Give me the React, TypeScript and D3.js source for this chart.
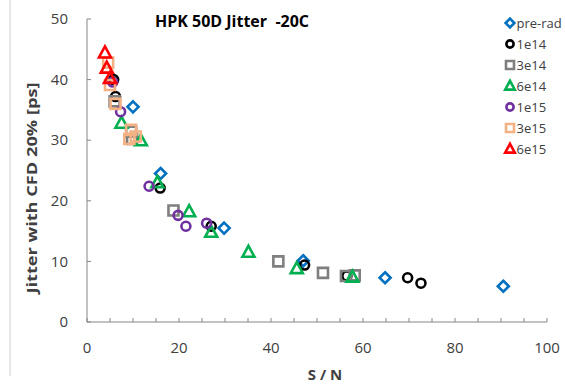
import * as d3 from 'd3'

const WIDTH = 565
const HEIGHT = 387
const MARGIN = {top: 19, right: 18, bottom: 65, left: 87}

type Pt = [number, number]

const preRad: Pt[] = [[10, 35.5], [16, 24.5], [29.8, 15.5], [47, 10.1], [64.8, 7.3], [90.5, 5.9]]
const s1e14: Pt[] = [[5.8, 40], [6.2, 37.2], [15.9, 22.1], [27, 15.8], [47.3, 9.4], [56.5, 7.6], [69.7, 7.3], [72.6, 6.4]]
const s3e14: Pt[] = [[6, 36.4], [9.6, 31.4], [9.8, 30.2], [18.8, 18.4], [41.6, 10], [51.3, 8.1], [56.3, 7.6], [58.2, 7.7]]
const s6e14: Pt[] = [[7.5, 32.8], [11.7, 29.9], [15.3, 23], [22.2, 18.2], [27, 14.8], [35.1, 11.5], [45.6, 8.8], [57.7, 7.4]]
const s1e15: Pt[] = [[5.6, 39.6], [7.3, 34.7], [13.5, 22.4], [19.8, 17.6], [21.5, 15.8], [26, 16.3]]
const s3e15: Pt[] = [[4.6, 42.8], [5, 39.1], [6.2, 36], [9.6, 31.7], [9.2, 30.2], [10.6, 30.6]]
const s6e15: Pt[] = [[3.9, 44.4], [4.3, 41.9], [5, 40.2]]

const seriesNames = ['pre-rad', '1e14', '3e14', '6e14', '1e15', '3e15', '6e15']
const seriesData = [preRad, s1e14, s3e14, s6e14, s1e15, s3e15, s6e15]
const seriesColors = ['#0070C0', '#000000', '#7F7F7F', '#00B050', '#7030A0', '#F4B183', '#FF0000']
const seriesShapes = ['diamond', 'circle', 'square', 'triangle', 'circle', 'square', 'triangle']

const xTicks = [0, 20, 40, 60, 80, 100]
const yTicks = [0, 10, 20, 30, 40, 50]

const symbolPath = (shape: string) => {
  if (shape === 'diamond') return 'M0,-5.5L5.5,0L0,5.5L-5.5,0Z'
  if (shape === 'square') return 'M-5,-5H5V5H-5Z'
  if (shape === 'triangle') return 'M0,-6.5L6,4.5H-6Z'
  return d3.arc()({innerRadius: 0, outerRadius: 4.5, startAngle: 0, endAngle: 2 * Math.PI}) as string
}

const Marker = ({shape, color, x, y, k = 1}: {shape: string; color: string; x: number; y: number; k?: number}) => (
  <path
    d={symbolPath(shape)}
    transform={`translate(${x},${y}) scale(${k})`}
    fill="none"
    stroke={color}
    strokeWidth={2.6 / k}
  />
)

export default function App() {
  const boundsHeight = HEIGHT - MARGIN.top - MARGIN.bottom
  const xScale = d3.scaleLinear().domain([0, 100]).range([0, 460])
  const yScale = d3.scaleLinear().domain([0, 50]).range([boundsHeight, 0])
  const minor = d3.range(0, 101, 5)
  const font = "'Open Sans', 'Noto Sans', sans-serif"

  return (
    <svg
      width={WIDTH}
      height={HEIGHT}
      style={{position: 'absolute', left: 0, top: 0, background: '#fff'}}
      fontFamily={font}>
      <line x1={10} x2={10} y1={0} y2={376} stroke="#d0d0d0" strokeWidth={1} />
      <text
        x={155}
        y={27}
        fontSize={16}
        fontWeight="bold"
        fill="#000"
        textLength={154}
        lengthAdjust="spacingAndGlyphs"
        style={{whiteSpace: 'pre'}}>
        {'HPK 50D Jitter  -20C'}
      </text>
      <g transform={`translate(${MARGIN.left},${MARGIN.top})`}>
        <line x1={0} x2={0} y1={0} y2={boundsHeight} stroke="#868686" />
        <line x1={0} x2={xScale(100)} y1={boundsHeight} y2={boundsHeight} stroke="#868686" />
        {yTicks.map(v => (
          <g key={v}>
            <line x1={0} x2={4} y1={yScale(v)} y2={yScale(v)} stroke="#868686" />
            <text
              x={-19}
              y={yScale(v)}
              dy="0.35em"
              textAnchor="end"
              fontSize={15}
              fill="#404040">
              {v}
            </text>
          </g>
        ))}
        {minor.map(v => (
          <line
            key={v}
            x1={xScale(v)}
            x2={xScale(v)}
            y1={boundsHeight}
            y2={boundsHeight - 4}
            stroke="#868686"
          />
        ))}
        {xTicks.map(v => (
          <text
            key={v}
            x={xScale(v)}
            y={boundsHeight + 31}
            textAnchor="middle"
            fontSize={15}
            fill="#404040">
            {v}
          </text>
        ))}
        <text
          x={325 - MARGIN.left}
          y={boundsHeight + 58}
          textAnchor="middle"
          fontSize={15}
          fontWeight="bold"
          fill="#404040">
          S / N
        </text>
        <text
          transform={`translate(${32 - MARGIN.left},${188 - MARGIN.top}) rotate(-90)`}
          textAnchor="middle"
          dy="0.35em"
          fontSize={15}
          fontWeight="bold"
          fill="#404040"
          textLength={211}
          lengthAdjust="spacingAndGlyphs">
          Jitter with CFD 20% [ps]
        </text>
        {seriesData.map((data, i) => (
          <g key={seriesNames[i]}>
            {data.map((d, j) => (
              <Marker
                key={j}
                shape={seriesShapes[i]}
                color={seriesColors[i]}
                x={xScale(d[0])}
                y={yScale(d[1])}
              />
            ))}
          </g>
        ))}
      </g>
      <g transform="translate(510,23)">
        {seriesNames.map((name, i) => (
          <g key={name} transform={`translate(0,${i * 21})`}>
            <Marker shape={seriesShapes[i]} color={seriesColors[i]} x={0} y={0} k={0.8} />
            <text x={6.5} y={0} dy="0.36em" fontSize={13} fill="#404040">
              {name}
            </text>
          </g>
        ))}
      </g>
    </svg>
  )
}
